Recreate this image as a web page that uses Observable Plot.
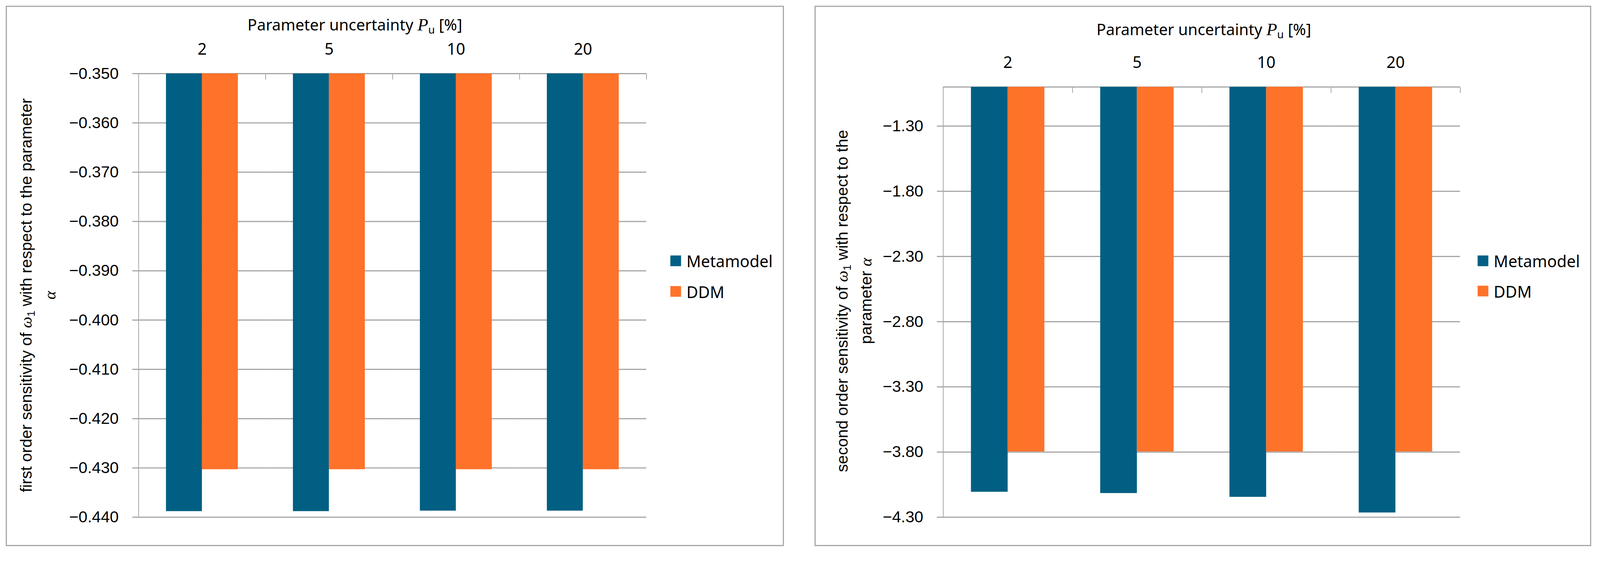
<!DOCTYPE html>
<html><head><meta charset="utf-8">
<script src="https://cdn.jsdelivr.net/npm/d3@7"></script>
<script src="https://cdn.jsdelivr.net/npm/@observablehq/plot@0.6"></script>
<style>
html,body{margin:0;padding:0;background:#fff;overflow:hidden;}
#root{position:absolute;left:0;top:0;width:4184px;height:1454px;overflow:hidden;background:#fff;transform-origin:0 0;}
.frame{position:absolute;box-sizing:border-box;border:3px solid #a6a6a6;}
.svgbox{position:absolute;}
.ytitle{position:absolute;font-family:"Liberation Sans",Arial,sans-serif;font-size:42px;line-height:62px;color:#000;text-align:center;white-space:nowrap;transform:translate(-50%,-50%) rotate(-90deg);}
.ytitle i{font-family:"Liberation Serif",serif;font-style:italic;}
.ytitle sub{font-size:28px;line-height:0;vertical-align:-8px;}
.title{position:absolute;font-family:"Noto Sans",sans-serif;font-size:41px;line-height:42px;white-space:nowrap;transform:translateX(-50%);color:#000;}
.title i{font-family:"Liberation Serif",serif;font-style:italic;font-size:46px;}
.title sub{font-size:28px;line-height:0;vertical-align:-8px;}
.leg{position:absolute;display:flex;align-items:center;height:28px;font-family:"Noto Sans",sans-serif;font-size:42px;color:#000;white-space:nowrap;}
.leg .sw{width:28px;height:28px;margin-right:14px;flex:none;}
</style></head><body><div id="root"></div>
<script>
// ---- data ----
const categories = ["2", "5", "10", "20"];
const series = ["Metamodel", "DDM"];
const colors = ["#005F83", "#FF7229"];
const firstMeta = [-0.4388, -0.4388, -0.4387, -0.4387];
const firstDDM = [-0.4303, -0.4303, -0.4303, -0.4303];
const secondMeta = [-4.106, -4.116, -4.145, -4.265];
const secondDDM = [-3.797, -3.797, -3.797, -3.797];
const firstTicks = [-0.35, -0.36, -0.37, -0.38, -0.39, -0.40, -0.41, -0.42, -0.43, -0.44];
const secondTicks = [-1.3, -1.8, -2.3, -2.8, -3.3, -3.8, -4.3];
const firstDomain = [-0.44, -0.35];
const secondDomain = [-4.3, -1.0];

const root = document.getElementById("root");
const GRID = "#a6a6a6";

function table(meta, ddm) {
  return categories.flatMap((c, i) => [
    {cat: c, series: series[0], value: meta[i]},
    {cat: c, series: series[1], value: ddm[i]}
  ]);
}

function panel({meta, ddm, domain, ticks, fmt, left, top, width, height, m, labelPad}) {
  const data = table(meta, ddm);
  const yTop = domain[1];
  const half = (width - m.left - m.right) / categories.length / 2;
  const chart = Plot.plot({
    width, height,
    marginLeft: m.left, marginRight: m.right, marginTop: m.top, marginBottom: m.bottom,
    style: {background: "transparent", fontFamily: "Liberation Sans, Arial, sans-serif", fontSize: "42px", color: "#000", overflow: "visible"},
    fx: {domain: categories, padding: 0, label: null},
    x: {domain: series, paddingInner: 0, paddingOuter: 0.75, axis: null},
    y: {domain, label: null},
    color: {domain: series, range: colors},
    marks: [
      Plot.gridY(ticks, {stroke: GRID, strokeOpacity: 1, strokeWidth: 3}),
      Plot.ruleY([yTop], {stroke: GRID, strokeWidth: 3}),
      Plot.barY(data, {fx: "cat", x: "series", y1: () => yTop, y2: "value", fill: "series"}),
      Plot.frame({anchor: "left", facetAnchor: "left", stroke: GRID, strokeWidth: 2}),
      Plot.axisY({ticks, tickFormat: fmt, tickSize: 16, tickPadding: 36, stroke: GRID, strokeWidth: 3, fontSize: 42, label: null}),
      Plot.axisFx({anchor: "top", tickSize: 0, tickPadding: labelPad, fontSize: 42, fontFamily: "Noto Sans, sans-serif", label: null}),
      Plot.axisFx({anchor: "top", tickSize: -15, text: null, dx: half, stroke: GRID, strokeWidth: 2, label: null})
    ]
  });
  const box = document.createElement("div");
  box.className = "svgbox";
  box.style.left = left + "px";
  box.style.top = top + "px";
  box.appendChild(chart);
  const fr = document.createElement("div");
  fr.className = "frame";
  Object.assign(fr.style, {left: left + "px", top: top + "px", width: width + "px", height: height + "px"});
  root.appendChild(fr);
  root.appendChild(box);
}

function addHTML(html) {
  const t = document.createElement("div");
  t.innerHTML = html;
  root.appendChild(t.firstElementChild);
}

function legend(x, y, gap) {
  series.forEach((s, i) => {
    addHTML(`<div class="leg" style="left:${x}px;top:${y + i * gap}px"><div class="sw" style="background:${colors[i]}"></div>${s}</div>`);
  });
}

panel({meta: firstMeta, ddm: firstDDM, domain: firstDomain, ticks: firstTicks, fmt: d3.format(".3f"),
  left: 15, top: 15, width: 2035, height: 1413, m: {left: 346, right: 359, top: 177, bottom: 76}, labelPad: 50});
panel({meta: secondMeta, ddm: secondDDM, domain: secondDomain, ticks: secondTicks, fmt: d3.format(".2f"),
  left: 2130, top: 15, width: 2031, height: 1413, m: {left: 335, right: 342, top: 212, bottom: 76}, labelPad: 50});

addHTML(`<div class="title" style="left:928px;top:43px">Parameter uncertainty <i>P</i><sub>u</sub> [%]</div>`);
addHTML(`<div class="title" style="left:3148px;top:55px">Parameter uncertainty <i>P</i><sub>u</sub> [%]</div>`);
addHTML(`<div class="ytitle" style="left:100px;top:772px">first order sensitivity of <i>ω</i><sub>1</sub> with respect to the parameter<br><i>α</i></div>`);
addHTML(`<div class="ytitle" style="left:2234px;top:787px">second order sensitivity of <i>ω</i><sub>1</sub> with respect to the<br>parameter <i>α</i></div>`);
legend(1753, 668, 80);
legend(3864, 668, 79);

// fit the 4184x1454 layout uniformly into the viewport actually used
function fit() {
  const s = Math.min(window.innerWidth / 4184, window.innerHeight / 1454, 1);
  root.style.transform = `scale(${s})`;
}
fit();
</script></body></html>
